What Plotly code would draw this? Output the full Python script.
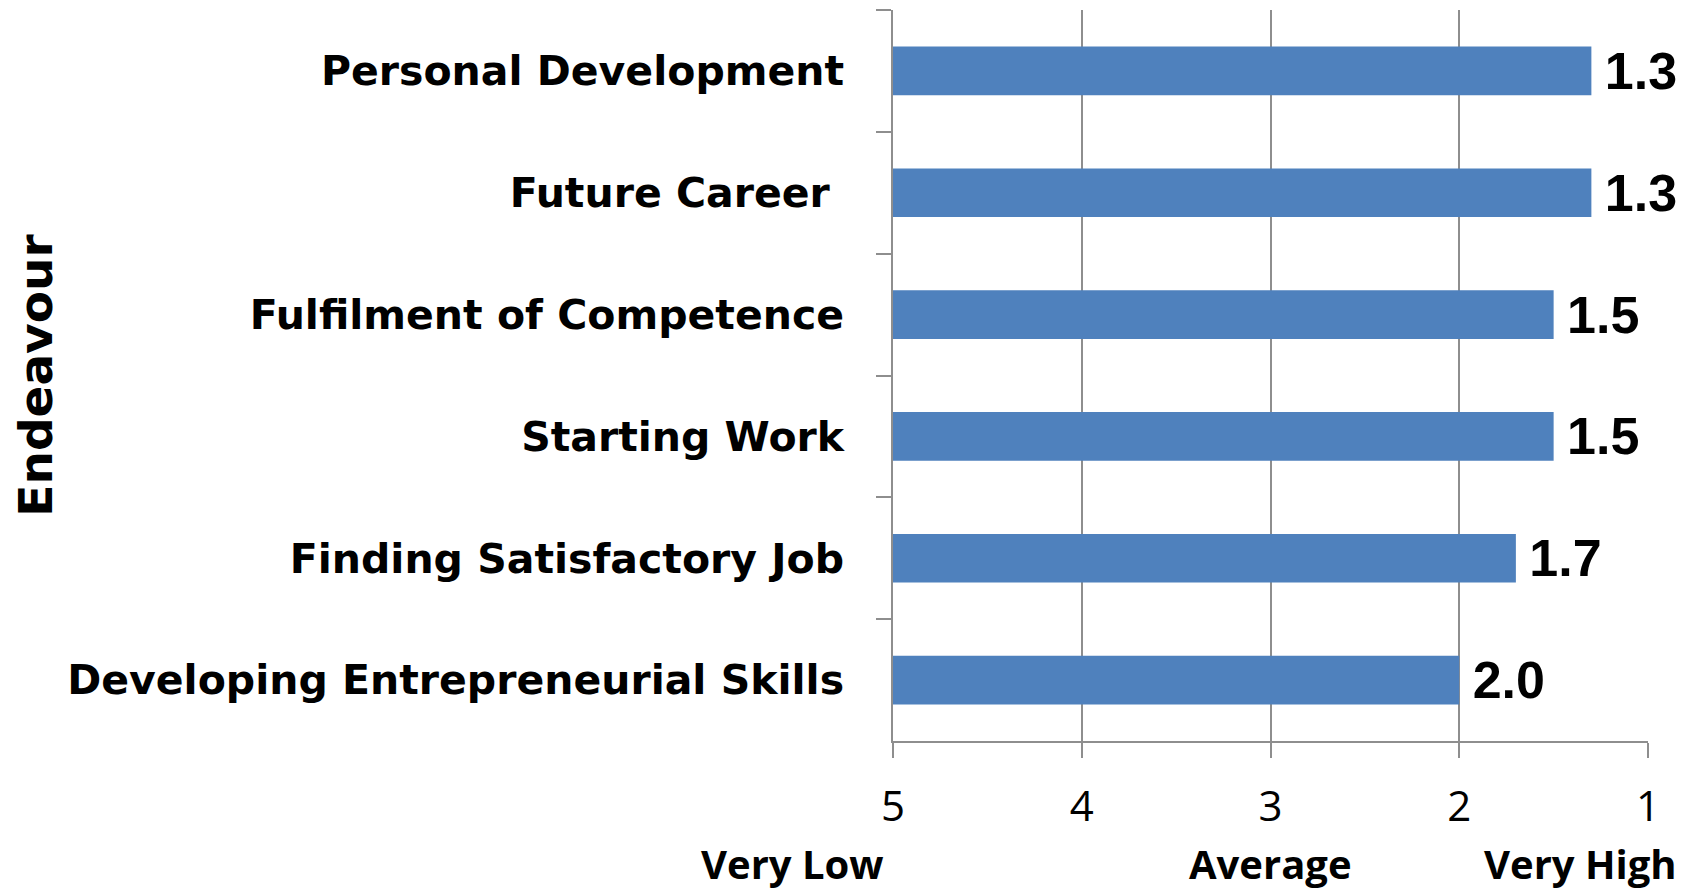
import plotly.graph_objects as go

categories = [
    "Personal Development",
    "Future Career\u00a0",
    "Fulfilment of Competence",
    "Starting Work",
    "Finding Satisfactory Job",
    "Developing Entrepreneurial Skills",
]
values = [1.3, 1.3, 1.5, 1.5, 1.7, 2.0]
scale_base = 5
x_ticks = [5, 4, 3, 2, 1]
scale_labels = ["Very Low", "Average", "Very High"]

bar_len = [v - scale_base for v in values]
bar_text = ["\u2009%.1f" % v for v in values]

heavy = "DejaVu Sans"
calibri = "Open Sans, sans-serif"
grid_col = "#8e8e8e"

fig = go.Figure()
fig.add_trace(go.Bar(
    y=categories,
    x=bar_len,
    base=scale_base,
    orientation="h",
    marker=dict(color="#4f81bd", line=dict(width=0)),
    width=0.4,
    text=bar_text,
    textposition="outside",
    constraintext="none",
    textfont=dict(family="Liberation Sans", size=52, color="black", weight="bold"),
    cliponaxis=False,
    hoverinfo="skip",
))

fig.update_layout(
    width=1690,
    height=883,
    margin=dict(l=885, r=50, t=2, b=150, autoexpand=False),
    plot_bgcolor="white",
    paper_bgcolor="white",
    showlegend=False,
    font=dict(family=calibri, color="black"),
)

fig.update_xaxes(
    range=[5, 1],
    tickvals=x_ticks,
    ticktext=[str(t) for t in x_ticks],
    showgrid=True,
    gridcolor=grid_col,
    gridwidth=1.5,
    showline=True,
    linecolor=grid_col,
    linewidth=1.5,
    ticks="outside",
    ticklen=15,
    tickcolor=grid_col,
    tickwidth=1.5,
    tickfont=dict(family=calibri, size=42, color="black"),
    ticklabelstandoff=13,
    zeroline=False,
)

fig.update_yaxes(
    categoryorder="array",
    categoryarray=categories,
    autorange="reversed",
    showgrid=False,
    showline=True,
    linecolor=grid_col,
    linewidth=1.5,
    ticks="outside",
    ticklen=15,
    tickcolor=grid_col,
    tickwidth=1.5,
    tickson="boundaries",
    tickfont=dict(family=heavy, size=41, color="black", weight="bold"),
    ticklabelstandoff=39,
    title=dict(text="Endeavour", font=dict(family=heavy, size=47, color="black", weight="bold"), standoff=24),
)

ann_x = [-0.1325, 0.5, 0.911]
for txt, xp in zip(scale_labels, ann_x):
    fig.add_annotation(
        text=txt, x=xp, y=-0.167, xref="paper", yref="paper",
        showarrow=False, xanchor="center", yanchor="middle",
        font=dict(family=calibri, size=40, color="black", weight="bold"),
    )

fig.write_html("out.html")
